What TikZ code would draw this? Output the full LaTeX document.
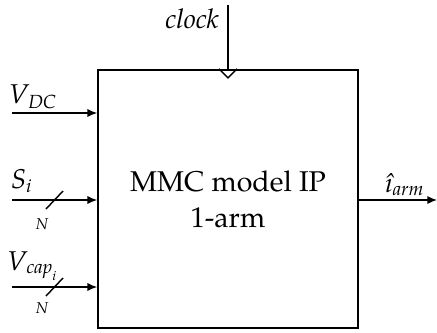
\documentclass[tikz,border=0pt]{standalone}
\usepackage{amsmath,amssymb}
\usepackage{fontspec}
\setmainfont{TeX Gyre Pagella}
\usepackage{tikz}
\usetikzlibrary{arrows.meta,positioning,calc}

\newcommand{\itx}[1]{\text{\itshape #1}}

\begin{document}
\begin{tikzpicture}[
  x=0.35pt, y=-0.35pt,
  line width=0.5pt,
  block/.style={rectangle, draw, line width=0.6pt, minimum width=91pt, minimum height=90.5pt, align=center, font=\fontsize{10}{12.5}\selectfont},
  lbl/.style={inner sep=0pt, font=\fontsize{9.5}{11}\selectfont},
  bus/.style={inner sep=0pt, font=\fontsize{5.5}{6}\selectfont},
  arrow/.style={-{Latex[length=3.4pt, width=2.9pt]}}]

\useasboundingbox (0,0) rectangle (437,332);

\node[block] (mmc) at (228,199) {MMC model IP\\1-arm};

\coordinate (clk) at (228,5);
\coordinate (vdc) at (12,113);
\coordinate (si) at (12,200);
\coordinate (vcap) at (12,287);
\coordinate (iarm) at (437,200);

\node[lbl] (clk_lbl) at (192,19) {\itshape clock};
\node[lbl] (vdc_lbl) at (33,97) {$\itx{V}_{\itx{DC}}$};
\node[lbl] (si_lbl) at (22,181) {$\itx{S}_{\itx{i}}$};
\node[lbl] (vcap_lbl) at (33,266) {$\itx{V}_{\itx{cap}_{\itx{i}}}$};
\node[lbl] (iarm_lbl) at (405,185) {$\itx{\^{\i}}_{\itx{arm}}$};
\node[bus] (si_n) at (42,224) {\itshape N};
\node[bus] (vcap_n) at (42,308) {\itshape N};

% Arrows
\draw[arrow] (vdc) -- (vdc -| mmc.west);
\draw[arrow] (si) -- (si -| mmc.west);
\draw[arrow] (vcap) -- (vcap -| mmc.west);
\draw[arrow] (mmc.east |- iarm) -- (iarm);
\draw (clk) -- (clk |- mmc.north);

% clock mark and bus slashes
\draw ($(clk |- mmc.north)+(-9,0)$) -- ($(clk |- mmc.north)+(0,9)$) -- ($(clk |- mmc.north)+(9,0)$);
\draw ($(si)+(34,9)$) -- ($(si)+(51,-9)$);
\draw ($(vcap)+(34,9)$) -- ($(vcap)+(51,-9)$);

\end{tikzpicture}
\end{document}
